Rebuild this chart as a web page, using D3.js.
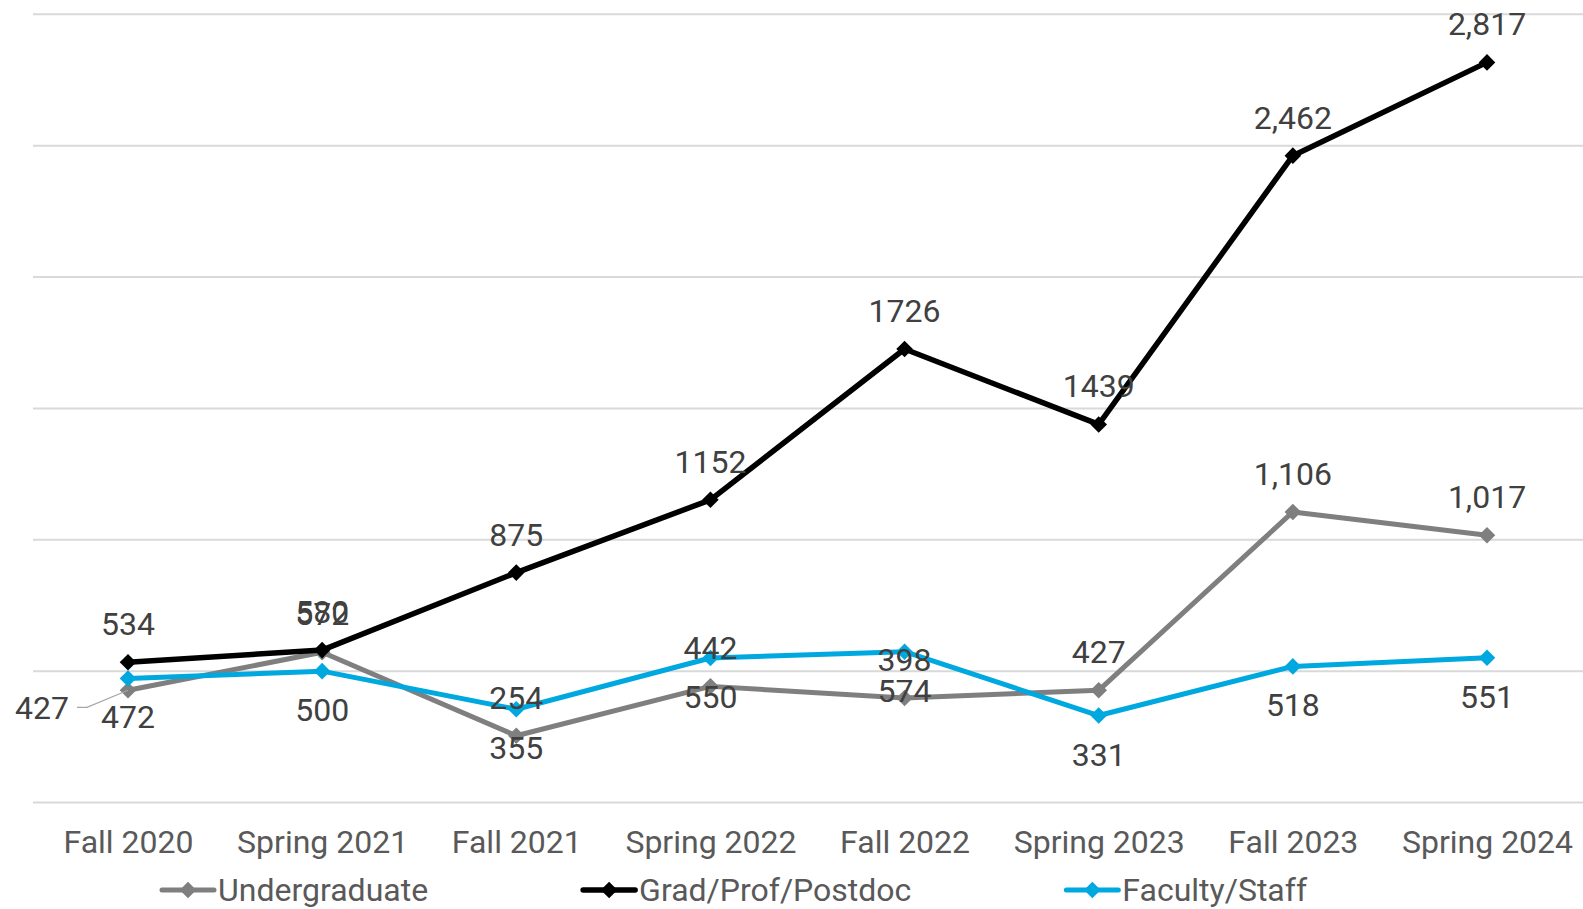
<!DOCTYPE html>
<html>
<head>
<meta charset="utf-8">
<script src="https://cdn.jsdelivr.net/npm/d3@7"></script>
<style>
  html, body { margin: 0; padding: 0; background: #fff; }
  svg { display: block; font-family: Roboto, "Noto Sans", sans-serif; }
</style>
</head>
<body>
<svg id="chart" width="1583" height="909"></svg>
<script>
const categories = ["Fall 2020","Spring 2021","Fall 2021","Spring 2022","Fall 2022","Spring 2023","Fall 2023","Spring 2024"];
const seriesNames = ["Undergraduate","Grad/Prof/Postdoc","Faculty/Staff"];
const undergradValues = [427, 572, 254, 442, 398, 427, 1106, 1017];
const gradValues = [534, 580, 875, 1152, 1726, 1439, 2462, 2817];
const facultyValues = [472, 500, 355, 550, 574, 331, 518, 551];
const undergradLabels = ["427","572","254","442","398","427","1,106","1,017"];
const gradLabels = ["534","580","875","1152","1726","1439","2,462","2,817"];
const facultyLabels = ["472","500","355","550","574","331","518","551"];
const yTicks = [0, 500, 1000, 1500, 2000, 2500, 3000];
const seriesColors = ["#7f7f7f", "#000000", "#00a8e0"];

const svg = d3.select("#chart");
const x = d3.scalePoint().domain(categories).range([128, 1487]);
const y = d3.scaleLinear().domain([0, 3000]).range([802.5, 14.3]);

// gridlines
svg.append("g").selectAll("line").data(yTicks).join("line")
  .attr("x1", 33).attr("x2", 1583)
  .attr("y1", d => y(d)).attr("y2", d => y(d))
  .attr("stroke", "#d9d9d9").attr("stroke-width", 2);

// x axis labels
const xAxis = d3.axisBottom(x).tickSize(0).tickPadding(0);
const xg = svg.append("g").attr("transform", "translate(0,830)").call(xAxis);
xg.select(".domain").remove();
xg.selectAll("text").attr("font-size", 32).attr("fill", "#595959")
  .attr("font-family", "Roboto").attr("dy", "0.71em").attr("y", 0);

const series = [
  { name: seriesNames[0], values: undergradValues, labels: undergradLabels, color: seriesColors[0], width: 5, pos: "above" },
  { name: seriesNames[1], values: gradValues, labels: gradLabels, color: seriesColors[1], width: 5.5, pos: "above" },
  { name: seriesNames[2], values: facultyValues, labels: facultyLabels, color: seriesColors[2], width: 5, pos: "below" }
];

const line = d3.line().x((d, i) => x(categories[i])).y(d => y(d));
const diamond = d3.symbol().type(d3.symbolDiamond2).size(175);

series.forEach(s => {
  const g = svg.append("g");
  g.append("path").datum(s.values).attr("d", line)
    .attr("fill", "none").attr("stroke", s.color).attr("stroke-width", s.width)
    .attr("stroke-linejoin", "round").attr("stroke-linecap", "round");
  g.selectAll("path.m").data(s.values).join("path").attr("class", "m")
    .attr("d", diamond)
    .attr("transform", (d, i) => `translate(${x(categories[i])},${y(d)})`)
    .attr("fill", s.color);
});

// data labels
series.forEach((s, si) => {
  const g = svg.append("g");
  s.values.forEach((v, i) => {
    const px = x(categories[i]), py = y(v);
    if (si === 0 && i === 0) {
      // label moved to the left with a leader line
      g.append("polyline")
        .attr("points", [[px, py], [87, py + 17], [77, py + 17]].map(p => p.join(",")).join(" "))
        .attr("fill", "none").attr("stroke", "#a6a6a6").attr("stroke-width", 1.2);
      g.append("text").attr("x", 69).attr("y", py + 17).attr("dy", "0.35em")
        .attr("text-anchor", "end").attr("font-size", 32).attr("fill", "#404040")
        .text(s.labels[i]);
      return;
    }
    g.append("text").attr("x", px)
      .attr("y", s.pos === "above" ? py - 27 : py + 50)
      .attr("text-anchor", "middle").attr("font-size", 32).attr("fill", "#404040")
      .text(s.labels[i]);
  });
});

// legend
const legend = svg.append("g");
let lx = 160;
const ly = 890;
series.forEach(s => {
  const item = legend.append("g");
  item.append("line").attr("x1", lx + 2).attr("x2", lx + 54).attr("y1", ly).attr("y2", ly)
    .attr("stroke", s.color).attr("stroke-width", s.width).attr("stroke-linecap", "round");
  item.append("path").attr("d", diamond).attr("transform", `translate(${lx + 28},${ly})`).attr("fill", s.color);
  const t = item.append("text").attr("x", lx + 58).attr("y", ly).attr("dy", "0.35em")
    .attr("font-size", 32).attr("fill", "#595959").text(s.name);
  lx = lx + 58 + t.node().getComputedTextLength() + 153;
});
</script>
</body>
</html>
